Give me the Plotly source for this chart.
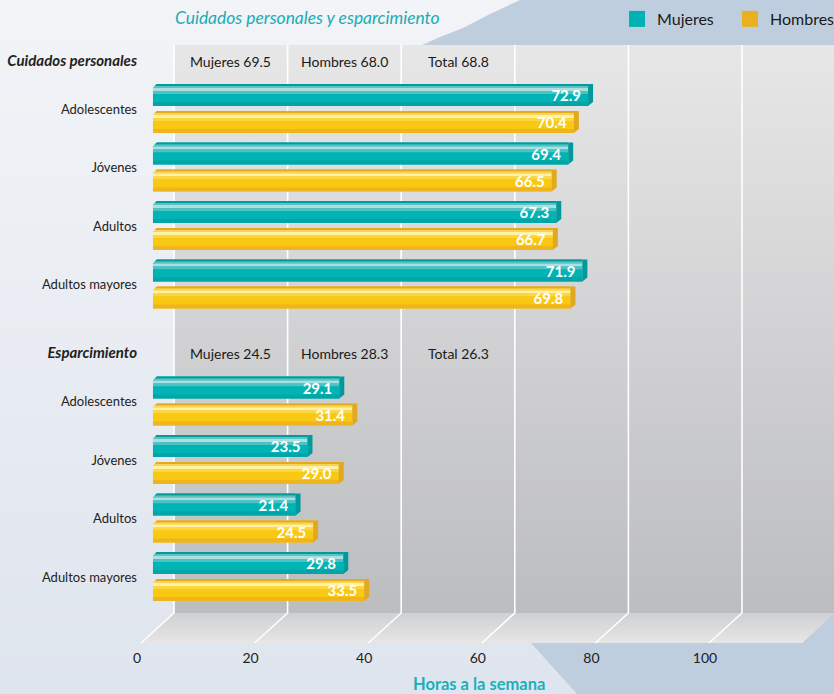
import plotly.graph_objects as go

# ---------------------------------------------------------------- data
categories = ["Adolescentes", "Jóvenes", "Adultos", "Adultos mayores"]
sections = ["Cuidados personales", "Esparcimiento"]

mujeres_cuidados = [72.9, 69.4, 67.3, 71.9]
hombres_cuidados = [70.4, 66.5, 66.7, 69.8]
mujeres_esparcimiento = [29.1, 23.5, 21.4, 29.8]
hombres_esparcimiento = [31.4, 29.0, 24.5, 33.5]

promedio_nombres = ["Mujeres", "Hombres", "Total"]
promedio_cuidados = [69.5, 68.0, 68.8]
promedio_esparcimiento = [24.5, 28.3, 26.3]

tick_values = [0, 20, 40, 60, 80, 100]

# ---------------------------------------------------------------- geometry / style
W, H = 834, 694
FONT = "Lato"
TEAL, GOLD = "#00b2b4", "#e9b121"
BG_TOP, BG_BOTTOM = (0xf2, 0xf4, 0xf7), (0xdf, 0xe5, 0xee)
X_WALL0 = 174        # px where 0 h sits on the back wall
X_FRONT0 = 137       # px where 0 h sits on the front edge of the floor
PX_PER_H = 5.68
WALL_TOP, FLOOR_BACK, FLOOR_FRONT = 45, 613, 643
ROW0, ROW_PX = 109, 58.5   # px of first row centre, px per row
BAR_PX = 22
BAR_BASE = -3.7            # bars start slightly in front of the wall's zero line
SIDE_H = 5 / PX_PER_H      # depth of the bar end face, in hours
LABEL_INSET = 4 / PX_PER_H # value labels sit a little inside the bar end
CHAMFER = 4                # px cut from each bar's top-left corner

def wall_px(v):
    return X_WALL0 + v * PX_PER_H

def rows(px):
    return px / ROW_PX

def hexc(rgb):
    return "#%02x%02x%02x" % tuple(int(round(c)) for c in rgb)

def bg_at(py):
    f = max(0.0, min(1.0, py / H))
    return hexc([a + (b - a) * f for a, b in zip(BG_TOP, BG_BOTTOM)])

# row positions (second section is shifted down by five rows)
pos_sections = [[i + 5 * s for i in range(len(categories))] for s in range(len(sections))]
header_rows = [5 * s - rows(48) for s in range(len(sections))]

series = [
    dict(name="Mujeres", values=mujeres_cuidados + mujeres_esparcimiento, top=-25, color=TEAL,
         side="#009a9c",
         bands=[(0, 22, "#00afb1"), (0, 2, "#029a9b"), (2, 2, "#5cc3c4"), (4, 3, "#ace0e0"),
                (7, 3, "#4ec2c3"), (10, 8, "#00b3b4"), (18, 4, "#00a5a7")]),
    dict(name="Hombres", values=hombres_cuidados + hombres_esparcimiento, top=2, color=GOLD,
         side="#e2a91e",
         bands=[(0, 22, "#f8c416"), (0, 2, "#e4aa1f"), (2, 2, "#f7d456"), (4, 3, "#fff2a6"),
                (7, 3, "#fdd63d"), (10, 8, "#f9c813"), (18, 4, "#efb51c")]),
]
positions = pos_sections[0] + pos_sections[1]

fig = go.Figure()

# ---------------------------------------------------------------- backdrop (pixel axes x / y)
def poly(xs, ys, **kw):
    fig.add_trace(go.Scatter(x=xs, y=ys, mode="lines", fill="toself", line=dict(width=0),
                             hoverinfo="skip", showlegend=False, xaxis="x", yaxis="y", **kw))

poly([0, W, W, 0, 0], [0, 0, H, H, 0],
     fillgradient=dict(type="vertical", colorscale=[[0, hexc(BG_TOP)], [1, hexc(BG_BOTTOM)]],
                       start=0, stop=H))
poly([422, 440, 463, 490, 520, W, W, 422], [45, 37, 28, 14, 0, 0, 45, 45], fillcolor="#bfcedf")
poly([531, 802, W, W, 577, 531], [643, 643, 613, H, H, 643], fillcolor="#bfcedf")
poly([X_WALL0, W, W, X_WALL0, X_WALL0], [WALL_TOP, WALL_TOP, FLOOR_BACK, FLOOR_BACK, WALL_TOP],
     fillgradient=dict(type="vertical", colorscale=[[0, "#e7e7e8"], [1, "#bcbdbf"]],
                       start=WALL_TOP, stop=FLOOR_BACK))
dx = FLOOR_FRONT - FLOOR_BACK + 3
poly([X_WALL0, W, W - 32, X_WALL0 - dx, X_WALL0],
     [FLOOR_BACK, FLOOR_BACK, FLOOR_FRONT, FLOOR_FRONT, FLOOR_BACK],
     fillgradient=dict(type="vertical", colorscale=[[0, "#cfd0d1"], [1, "#e6e6e7"]],
                       start=FLOOR_BACK, stop=FLOOR_FRONT))

# wall gridlines with their floor continuation
gx, gy = [], []
for t in tick_values:
    x = wall_px(t)
    gx += [x, x, x - dx, None]
    gy += [WALL_TOP, FLOOR_BACK, FLOOR_FRONT, None]
fig.add_trace(go.Scatter(x=gx, y=gy, mode="lines", line=dict(color="white", width=1.6),
                         hoverinfo="skip", showlegend=False, xaxis="x", yaxis="y"))

# legend entries
for s in series:
    fig.add_trace(go.Scatter(x=[-100], y=[-100], mode="markers", name=s["name"],
                             marker=dict(symbol="square", size=19, color=s["color"]),
                             xaxis="x", yaxis="y", hoverinfo="skip"))

# ---------------------------------------------------------------- bars (data axes x2 / y2)
# each bar spans from BAR_BASE up to its value
for s in series:
    lengths = [v - BAR_BASE for v in s["values"]]
    s["lengths"] = lengths
    for top, h, col in s["bands"]:
        fig.add_trace(go.Bar(
            x=lengths, y=positions, base=BAR_BASE, orientation="h",
            width=rows(h), offset=rows(s["top"] + top),
            marker=dict(color=col, line=dict(width=0)),
            xaxis="x2", yaxis="y2", showlegend=False, hoverinfo="skip"))

for s in series:
    # end face of each bar
    sx, sy = [], []
    for v, p in zip(s["values"], positions):
        t0 = p + rows(s["top"])
        t1 = t0 + rows(BAR_PX)
        sx += [v, v + SIDE_H, v + SIDE_H, v, v, None]
        sy += [t0, t0, t1 - rows(4), t1, t0, None]
    fig.add_trace(go.Scatter(x=sx, y=sy, mode="lines", fill="toself", fillcolor=s["side"],
                             line=dict(width=0), xaxis="x2", yaxis="y2",
                             showlegend=False, hoverinfo="skip"))

# bevelled top-left corner of each bar
for s in series:
    for p in positions:
        t0 = p + rows(s["top"])
        py = ROW0 + t0 * ROW_PX
        c = CHAMFER / PX_PER_H
        fig.add_trace(go.Scatter(
            x=[BAR_BASE - 0.05, BAR_BASE + c, BAR_BASE - 0.05, BAR_BASE - 0.05],
            y=[t0 - rows(0.5), t0 - rows(0.5), t0 + rows(CHAMFER), t0 - rows(0.5)],
            mode="lines", fill="toself", fillcolor=bg_at(py), line=dict(width=0),
            xaxis="x2", yaxis="y2", showlegend=False, hoverinfo="skip"))

# value labels (transparent carrier bars, ending just inside each bar)
for s in series:
    fig.add_trace(go.Bar(
        x=[L - LABEL_INSET for L in s["lengths"]], y=positions, base=BAR_BASE, orientation="h",
        width=rows(BAR_PX), offset=rows(s["top"]),
        marker=dict(color="rgba(0,0,0,0)", line=dict(width=0)),
        text=[f"{v:.1f}" for v in s["values"]], textposition="inside",
        insidetextanchor="end", textangle=0, constraintext="none",
        insidetextfont=dict(family=FONT, size=15, color="white", weight="bold"),
        xaxis="x2", yaxis="y2", showlegend=False, hoverinfo="skip"))

# front axis carrying the tick labels
fig.add_trace(go.Scatter(x=[0], y=[0], mode="markers", marker=dict(opacity=0),
                         xaxis="x3", yaxis="y2", showlegend=False, hoverinfo="skip"))

# ---------------------------------------------------------------- texts
ann = []
ann.append(dict(text="<i>Cuidados personales y esparcimiento</i>", x=173, y=17, xref="x", yref="y",
                xanchor="left", yanchor="middle", showarrow=False,
                font=dict(family=FONT, size=17.4, color="#1aacb6")))
ann.append(dict(text="<b>Horas a la semana</b>", x=479, y=684, xref="x", yref="y",
                xanchor="center", yanchor="middle", showarrow=False,
                font=dict(family=FONT, size=16.5, color="#1ab0ba")))
for hdr, proms in zip(header_rows, [promedio_cuidados, promedio_esparcimiento]):
    for k, (nm, val) in enumerate(zip(promedio_nombres, proms)):
        ann.append(dict(text=f"{nm} {val:.1f}", x=10 + 20 * k, y=hdr, xref="x2", yref="y2",
                        xanchor="center", yanchor="middle", showarrow=False,
                        font=dict(family=FONT, size=14, color="#1a1a1a")))

tickvals_y, ticktext_y = [], []
for s, name in enumerate(sections):
    tickvals_y.append(header_rows[s])
    ticktext_y.append(f'<span style="font-size:15px"><b><i>{name}</i></b></span>')
    for i, c in enumerate(categories):
        tickvals_y.append(pos_sections[s][i])
        ticktext_y.append(c)

fig.update_layout(
    width=W, height=H, autosize=False,
    margin=dict(l=0, r=0, t=0, b=0, pad=0, autoexpand=False),
    paper_bgcolor="#e9edf3", plot_bgcolor="rgba(0,0,0,0)",
    barmode="overlay", annotations=ann,
    font=dict(family=FONT, color="#222222"),
    xaxis=dict(range=[0, W], visible=False, fixedrange=True),
    yaxis=dict(range=[H, 0], visible=False, fixedrange=True),
    xaxis2=dict(overlaying="x", anchor="y2", visible=False, fixedrange=True,
                range=[(0 - X_WALL0) / PX_PER_H, (W - X_WALL0) / PX_PER_H]),
    yaxis2=dict(overlaying="y", anchor="free", position=137 / W, fixedrange=True,
                range=[rows(H - ROW0), rows(0 - ROW0)],
                tickvals=tickvals_y, ticktext=ticktext_y, showgrid=False, zeroline=False,
                showline=False, ticks="", tickfont=dict(family=FONT, size=13, color="#222222")),
    xaxis3=dict(overlaying="x", anchor="free", position=(H - FLOOR_FRONT) / H, side="bottom",
                fixedrange=True,
                range=[(0 - X_FRONT0) / PX_PER_H, (W - X_FRONT0) / PX_PER_H],
                tickvals=tick_values, showgrid=False, zeroline=False, showline=False, ticks="",
                ticklabelstandoff=5, tickfont=dict(family=FONT, size=14, color="#222222")),
    legend=dict(orientation="h", x=617 / W, xanchor="left", y=1 - 19 / H, yanchor="middle",
                bgcolor="rgba(0,0,0,0)", font=dict(family=FONT, size=16, color="#1a1a1a"),
                itemsizing="trace", entrywidth=68, entrywidthmode="pixels",
                itemclick=False, itemdoubleclick=False),
    showlegend=True,
)

fig.write_html("out.html")
